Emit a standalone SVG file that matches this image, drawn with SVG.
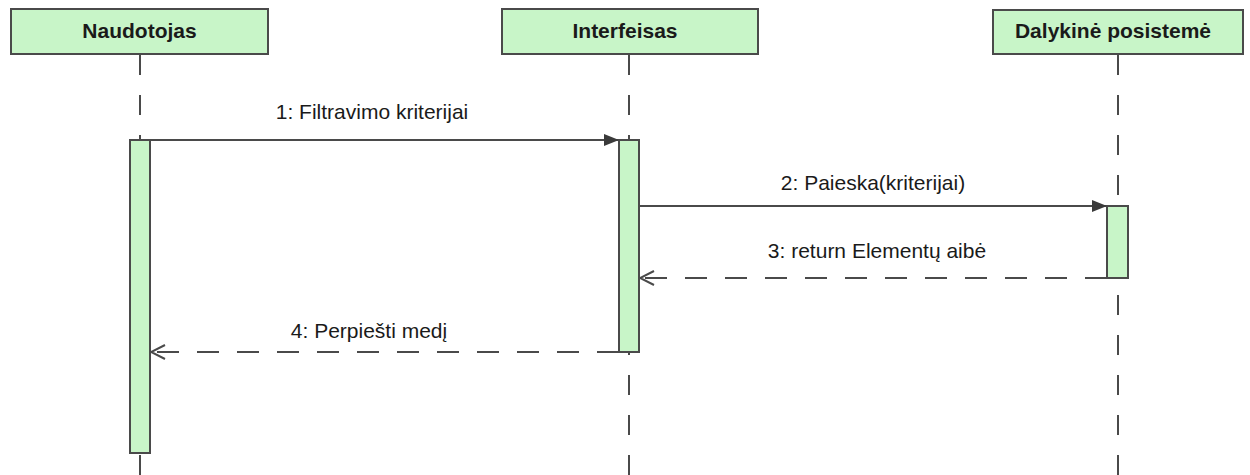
<svg xmlns="http://www.w3.org/2000/svg" width="1250" height="475" viewBox="0 0 1250 475">
  <style>
    .head { fill: #c8f5c8; stroke: #4a4a4a; stroke-width: 2; }
    .head-label { font-family: "Liberation Sans", Arial, sans-serif; font-weight: bold; font-size: 21px; fill: #1a1a1a; text-anchor: middle; }
    .lifeline { stroke: #4a4a4a; stroke-width: 2; stroke-dasharray: 20 20; fill: none; }
    .activation { fill: #c8f5c8; stroke: #4a4a4a; stroke-width: 2; }
    .msg { stroke: #4a4a4a; stroke-width: 2; fill: none; }
    .reply { stroke: #4a4a4a; stroke-width: 2; fill: none; stroke-dasharray: 22 18; }
    .msg-label { font-family: "Liberation Sans", Arial, sans-serif; font-size: 21px; fill: #1a1a1a; text-anchor: middle; }
  </style>
  <defs>
    <marker id="call" markerWidth="16" markerHeight="14" refX="15" refY="7" orient="auto" markerUnits="userSpaceOnUse">
      <path d="M0,1 L15,7 L0,13 Z" fill="#3a3a3a"/>
    </marker>
    <marker id="ret" markerWidth="16" markerHeight="16" refX="15" refY="8" orient="auto" markerUnits="userSpaceOnUse">
      <path d="M1,1 L15,8 L1,15" fill="none" stroke="#4a4a4a" stroke-width="2"/>
    </marker>
  </defs>
  <rect width="1250" height="475" fill="#ffffff"/>

  <!-- lifelines -->
  <g id="lifelines">
    <line class="lifeline" x1="140" y1="55" x2="140" y2="475"/>
    <line class="lifeline" x1="629" y1="55" x2="629" y2="475"/>
    <line class="lifeline" x1="1118" y1="55" x2="1118" y2="475"/>
  </g>

  <g id="naudotojas">
    <rect class="head" x="11" y="9" width="257" height="45"/>
    <text class="head-label" x="139.5" y="38">Naudotojas</text>
    <rect class="activation" x="130" y="140" width="20" height="313"/>
  </g>

  <g id="interfeisas">
    <rect class="head" x="502" y="9" width="256" height="45"/>
    <text class="head-label" x="625" y="38">Interfeisas</text>
    <rect class="activation" x="619" y="140" width="20" height="212"/>
  </g>

  <g id="dalykine-posisteme">
    <rect class="head" x="993" y="10" width="250" height="44"/>
    <text class="head-label" x="1113" y="38">Dalykinė posistemė</text>
    <rect class="activation" x="1107" y="206" width="21" height="72"/>
  </g>

  <!-- messages -->
  <g id="connectors">
    <line class="msg" x1="150" y1="140" x2="619" y2="140" marker-end="url(#call)"/>
    <text class="msg-label" x="372" y="119">1: Filtravimo kriterijai</text>

    <line class="msg" x1="639" y1="206" x2="1107" y2="206" marker-end="url(#call)"/>
    <text class="msg-label" x="873" y="190">2: Paieska(kriterijai)</text>

    <line class="reply" x1="1107" y1="278" x2="640" y2="278" marker-end="url(#ret)"/>
    <text class="msg-label" x="877" y="258">3: return Elementų aibė</text>

    <line class="reply" x1="619" y1="352" x2="151" y2="352" marker-end="url(#ret)"/>
    <text class="msg-label" x="369" y="338">4: Perpiešti medį</text>
  </g>
</svg>
